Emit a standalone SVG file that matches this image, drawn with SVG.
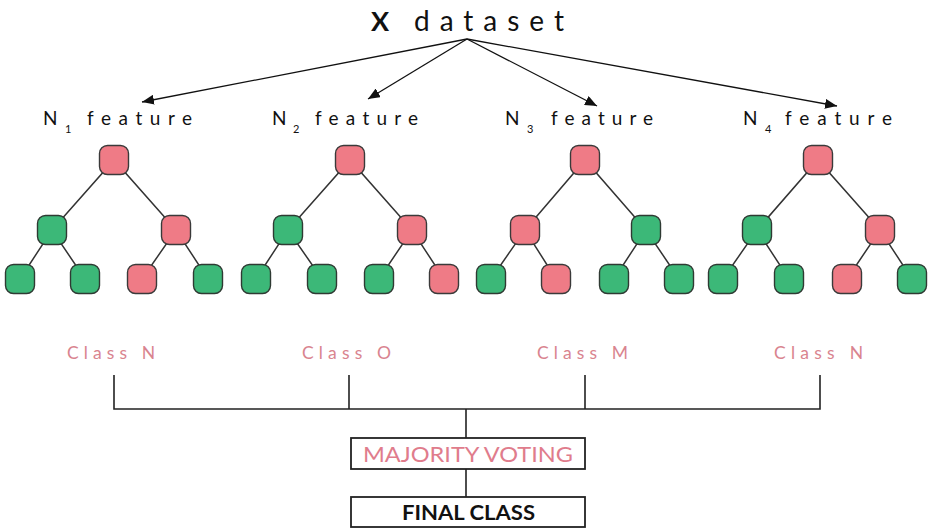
<svg xmlns="http://www.w3.org/2000/svg" width="929" height="528" viewBox="0 0 929 528">
<style>
.bg{fill:#ffffff}
.p{fill:#EF7B86;stroke:#3a3a3a;stroke-width:1.4}
.g{fill:#3CB878;stroke:#2f3a33;stroke-width:1.4}
.e{stroke:#333;stroke-width:1.5;fill:none}
.a{stroke:#111;stroke-width:1.3;fill:none}
.b{stroke:#222;stroke-width:1.6;fill:none}
.t{font-family:Lato,"Liberation Sans",sans-serif;fill:#111}
.f{font-size:19px}
.cls{font-family:Lato,"Liberation Sans",sans-serif;fill:#D9848F;font-size:17.5px}
.box{fill:#fff;stroke:#222;stroke-width:1.8}
</style>
<defs>
<marker id="ah" viewBox="0 0 12 10" refX="12" refY="5" markerWidth="12" markerHeight="10" markerUnits="userSpaceOnUse" orient="auto">
<path d="M0,0 L12,5 L0,10 z" fill="#111"/>
</marker>
</defs>
<rect class="bg" x="0" y="0" width="929" height="528"/>

<g id="title">
<text class="t" x="371" y="31" font-size="27" font-weight="bold">X</text>
<text class="t" x="414" y="31" font-size="28" textLength="150" lengthAdjust="spacing">dataset</text>
</g>

<g id="connectors">
<line class="a" x1="467" y1="39" x2="142" y2="102" marker-end="url(#ah)"/>
<line class="a" x1="467" y1="39" x2="368" y2="99" marker-end="url(#ah)"/>
<line class="a" x1="467" y1="39" x2="597" y2="106" marker-end="url(#ah)"/>
<line class="a" x1="467" y1="39" x2="837" y2="106" marker-end="url(#ah)"/>
<path class="e" d="M52,230 L114,160 L176,230 M20,279 L52,230 L85,279 M142,279 L176,230 L208,279"/>
<path class="e" d="M288,230 L350,160 L412,230 M256,279 L288,230 L322,279 M379,279 L412,230 L444,279"/>
<path class="e" d="M525,230 L585,160 L646,230 M491,279 L525,230 L556,279 M614,279 L646,230 L679,279"/>
<path class="e" d="M757,230 L818,160 L880,230 M723,279 L757,230 L789,279 M847,279 L880,230 L912,279"/>
<path class="b" d="M114,375 V409 H820 V375 M349,375 V409 M585,375 V409 M466,409 V438 M466,469 V497"/>
</g>

<g id="feature1"><text class="t f" x="43" y="125">N</text><text class="t" x="65" y="133" font-size="11">1</text><text class="t f" x="87" y="125" textLength="105" lengthAdjust="spacing">feature</text></g>
<g id="feature2"><text class="t f" x="272" y="125">N</text><text class="t" x="293" y="133" font-size="11">2</text><text class="t f" x="315" y="125" textLength="103" lengthAdjust="spacing">feature</text></g>
<g id="feature3"><text class="t f" x="505" y="125">N</text><text class="t" x="527" y="133" font-size="11">3</text><text class="t f" x="551" y="125" textLength="102" lengthAdjust="spacing">feature</text></g>
<g id="feature4"><text class="t f" x="743" y="125">N</text><text class="t" x="765" y="133" font-size="11">4</text><text class="t f" x="785" y="125" textLength="107" lengthAdjust="spacing">feature</text></g>

<g id="t1-root"><rect class="p" x="99.5" y="145.5" width="29" height="29" rx="8"/></g>
<g id="t1-l"><rect class="g" x="37.5" y="215.5" width="29" height="29" rx="8"/></g>
<g id="t1-r"><rect class="p" x="161.5" y="215.5" width="29" height="29" rx="8"/></g>
<g id="t1-ll"><rect class="g" x="5.5" y="264.5" width="29" height="29" rx="8"/></g>
<g id="t1-lr"><rect class="g" x="70.5" y="264.5" width="29" height="29" rx="8"/></g>
<g id="t1-rl"><rect class="p" x="127.5" y="264.5" width="29" height="29" rx="8"/></g>
<g id="t1-rr"><rect class="g" x="193.5" y="264.5" width="29" height="29" rx="8"/></g>
<g id="t2-root"><rect class="p" x="335.5" y="145.5" width="29" height="29" rx="8"/></g>
<g id="t2-l"><rect class="g" x="273.5" y="215.5" width="29" height="29" rx="8"/></g>
<g id="t2-r"><rect class="p" x="397.5" y="215.5" width="29" height="29" rx="8"/></g>
<g id="t2-ll"><rect class="g" x="241.5" y="264.5" width="29" height="29" rx="8"/></g>
<g id="t2-lr"><rect class="g" x="307.5" y="264.5" width="29" height="29" rx="8"/></g>
<g id="t2-rl"><rect class="g" x="364.5" y="264.5" width="29" height="29" rx="8"/></g>
<g id="t2-rr"><rect class="p" x="429.5" y="264.5" width="29" height="29" rx="8"/></g>
<g id="t3-root"><rect class="p" x="570.5" y="145.5" width="29" height="29" rx="8"/></g>
<g id="t3-l"><rect class="p" x="510.5" y="215.5" width="29" height="29" rx="8"/></g>
<g id="t3-r"><rect class="g" x="631.5" y="215.5" width="29" height="29" rx="8"/></g>
<g id="t3-ll"><rect class="g" x="476.5" y="264.5" width="29" height="29" rx="8"/></g>
<g id="t3-lr"><rect class="p" x="541.5" y="264.5" width="29" height="29" rx="8"/></g>
<g id="t3-rl"><rect class="g" x="599.5" y="264.5" width="29" height="29" rx="8"/></g>
<g id="t3-rr"><rect class="g" x="664.5" y="264.5" width="29" height="29" rx="8"/></g>
<g id="t4-root"><rect class="p" x="803.5" y="145.5" width="29" height="29" rx="8"/></g>
<g id="t4-l"><rect class="g" x="742.5" y="215.5" width="29" height="29" rx="8"/></g>
<g id="t4-r"><rect class="p" x="865.5" y="215.5" width="29" height="29" rx="8"/></g>
<g id="t4-ll"><rect class="g" x="708.5" y="264.5" width="29" height="29" rx="8"/></g>
<g id="t4-lr"><rect class="g" x="774.5" y="264.5" width="29" height="29" rx="8"/></g>
<g id="t4-rl"><rect class="p" x="832.5" y="264.5" width="29" height="29" rx="8"/></g>
<g id="t4-rr"><rect class="g" x="897.5" y="264.5" width="29" height="29" rx="8"/></g>

<g id="class1"><text class="cls" x="67" y="359" textLength="88" lengthAdjust="spacing">Class N</text></g>
<g id="class2"><text class="cls" x="302" y="359" textLength="89" lengthAdjust="spacing">Class O</text></g>
<g id="class3"><text class="cls" x="537" y="359" textLength="91" lengthAdjust="spacing">Class M</text></g>
<g id="class4"><text class="cls" x="774" y="359" textLength="89" lengthAdjust="spacing">Class N</text></g>

<g id="majority">
<rect class="box" x="351" y="438" width="234" height="31"/>
<text x="363" y="462" font-family="Lato,'Liberation Sans',sans-serif" font-size="22" fill="#E07C8C" textLength="210" lengthAdjust="spacingAndGlyphs">MAJORITY VOTING</text>
</g>
<g id="final">
<rect class="box" x="351" y="497" width="234" height="30"/>
<text x="402" y="520" font-family="Lato,'Liberation Sans',sans-serif" font-size="21" font-weight="bold" fill="#111" textLength="133" lengthAdjust="spacingAndGlyphs">FINAL CLASS</text>
</g>
</svg>
